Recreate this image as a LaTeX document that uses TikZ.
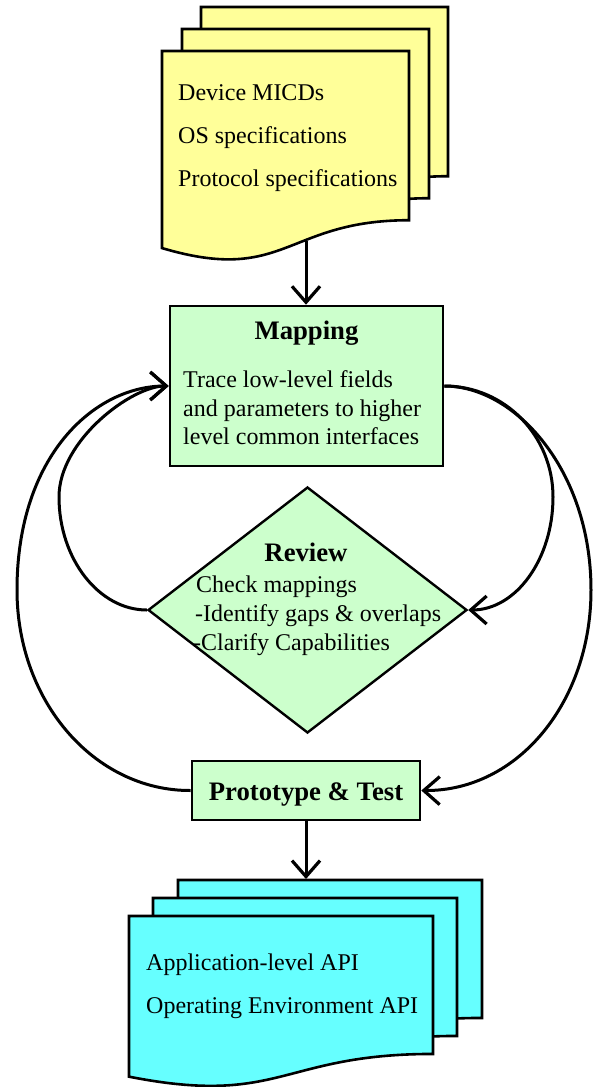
\documentclass[tikz,border=0pt]{standalone}
\usepackage{fontspec}
\setmainfont{Liberation Serif}
\usetikzlibrary{arrows.meta,shapes.geometric,calc}

\definecolor{srcyellow}{RGB}{255,255,153}
\definecolor{stepgreen}{RGB}{204,255,204}
\definecolor{apicyan}{RGB}{102,255,255}

% one sheet of a document stack: top-left (#1,#2), width #3, height #4, fill #5
\newcommand{\docsheet}[5]{%
  \filldraw[sheet, fill=#5]
    (#1,#2) -- ({#1+#3},#2) -- ({#1+#3},{#2+0.802*#4})
    .. controls ({#1+0.5*#3},{#2+0.802*#4}) and ({#1+0.5*#3},{#2+1.108*#4})
    .. (#1,{#2+0.934*#4}) -- cycle;}

\begin{document}
\begin{tikzpicture}[x=1pt, y=-1pt,
  sheet/.style={line width=2.6pt, line join=miter},
  stepbox/.style={draw, line width=2.6pt, fill=stepgreen, inner sep=0pt},
  txt/.style={anchor=base west, inner sep=0pt, font=\fontsize{24}{28}\selectfont},
  ttl/.style={anchor=base, inner sep=0pt, font=\fontsize{26.7}{30}\selectfont\bfseries},
  barb/.tip={Straight Barb[length=16pt, width=28pt, line width=3.2pt, line cap=butt, line join=miter]},
  flow/.style={line width=3pt, -barb},
  loopin/.style={line width=3pt, -barb}]

\useasboundingbox (0,0) rectangle (596,1087);

% source documents
\docsheet{201}{7}{247}{211}{srcyellow}
\docsheet{182}{29}{247}{211}{srcyellow}
\docsheet{162}{51}{247}{211}{srcyellow}
\node[txt] (src1) at (178,100) {Device MICDs};
\node[txt] (src2) at (178,143) {OS specifications};
\node[txt] (src3) at (178,186) {Protocol specifications};
\coordinate (srcout) at (306,241);

% mapping step
\node[stepbox, minimum width=273pt, minimum height=160pt] (map) at (306.5,386) {};
\node[ttl] (maptitle) at (306.5,339) {Mapping};
\node[txt] (map1) at (183,387) {Trace low-level fields};
\node[txt] (map2) at (183,416) {and parameters to higher};
\node[txt] (map3) at (183,444) {level common interfaces};

% review step
\node[draw, diamond, line width=2.4pt, fill=stepgreen, inner sep=0pt,
      minimum width=319pt, minimum height=246pt] (rev) at (307.5,610) {};
\node[ttl] (revtitle) at (306,561) {Review};
\node[txt] (rev1) at (196,592) {Check mappings};
\node[txt] (rev2) at (195,621) {-Identify gaps \& overlaps};
\node[txt] (rev3) at (193,650) {-Clarify Capabilities};

% prototype step
\node[stepbox, minimum width=228pt, minimum height=59pt] (proto) at (306,790.5) {};
\node[ttl] (prototitle) at (306,800) {Prototype \& Test};

% resulting APIs
\docsheet{178}{880}{304}{172}{apicyan}
\docsheet{153}{898}{304}{172}{apicyan}
\docsheet{129}{916}{304}{172}{apicyan}
\node[txt] (api1) at (146,970) {Application-level API};
\node[txt] (api2) at (146,1013) {Operating Environment API};
\coordinate (apitop) at (306,879);

% main flow
\draw[flow] (srcout) -- (srcout |- map.north);
\draw[flow] (proto.south) -- (apitop);

% feedback loops on the left
\draw[loopin] (rev.west) .. controls (99,610) and (59,559) .. (59,497)
  .. controls (59,440) and (132,386) .. (map.west);
\draw[loopin] (proto.west) .. controls (95,791) and (17,702) .. (17,590)
  .. controls (17,455) and (95,386) .. (map.west);

% feed-forward loops on the right
\draw[loopin] (map.east) .. controls (505,386) and (553,436) .. (553,497)
  .. controls (553,559) and (516,610) .. (rev.east);
\draw[loopin] (map.east) .. controls (515,386) and (591,470) .. (591,590)
  .. controls (591,702) and (518,791) .. (proto.east);

\end{tikzpicture}
\end{document}
